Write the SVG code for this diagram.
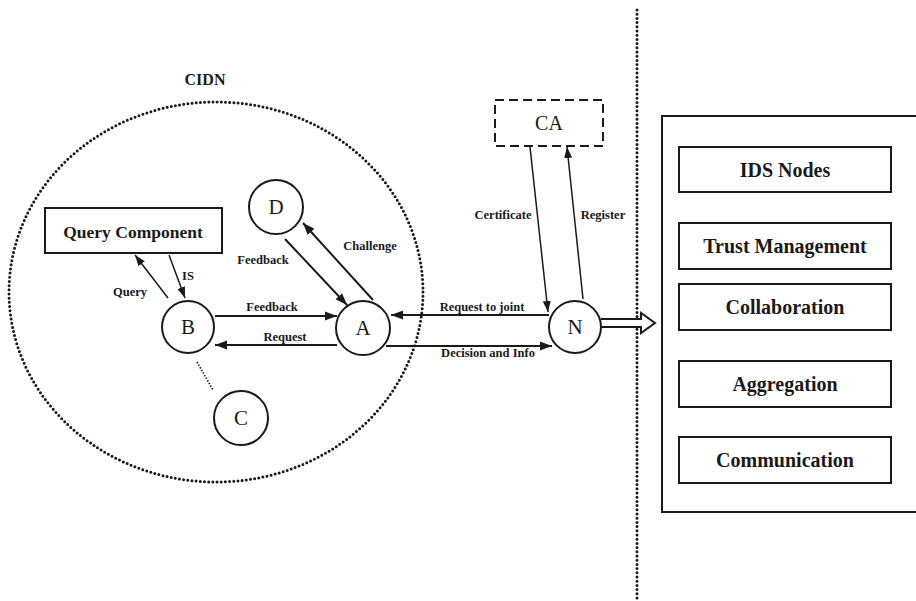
<svg xmlns="http://www.w3.org/2000/svg" width="916" height="601" viewBox="0 0 916 601">
<defs>
<style>
text{font-family:"Liberation Serif","Times New Roman",serif;fill:#1a1a1a}
.lbl{font-size:12.5px;font-weight:bold;text-anchor:middle}
.box{font-size:20px;font-weight:bold;text-anchor:middle}
.nd{font-size:21px;text-anchor:middle}
.circ{fill:#fff;stroke:#1a1a1a;stroke-width:2}
.rect{fill:#fff;stroke:#1a1a1a;stroke-width:2}
.dots{fill:none;stroke:#1a1a1a;stroke-width:3;stroke-linecap:round;stroke-dasharray:0 4.2}
.arr{fill:none;stroke:#1a1a1a;stroke-width:2;marker-end:url(#ah)}
.thin{fill:none;stroke:#1a1a1a;stroke-width:1.5;marker-end:url(#ahs)}
</style>
<marker id="ah" markerUnits="userSpaceOnUse" markerWidth="13" markerHeight="10" refX="12" refY="5" orient="auto"><path d="M0,0.5 L12,5 L0,9.5 z" fill="#1a1a1a"/></marker>
<marker id="ahs" markerUnits="userSpaceOnUse" markerWidth="12" markerHeight="10" refX="11" refY="5" orient="auto"><path d="M0,1 L11,5 L0,9 z" fill="#1a1a1a"/></marker>
</defs>
<rect width="916" height="601" fill="#fff"/>

<g id="cidn">
<ellipse cx="216" cy="292" rx="207" ry="190" class="dots"/>
<text x="205" y="85" style="font-size:16px;font-weight:bold;text-anchor:middle">CIDN</text>
</g>
<line id="divider" x1="637" y1="10" x2="637" y2="598" class="dots"/>

<g id="connectors">
<line x1="215" y1="316" x2="337" y2="316" class="arr"/>
<line x1="337" y1="345" x2="215" y2="345" class="arr"/>
<line x1="168" y1="298" x2="135" y2="255" class="thin"/>
<line x1="169" y1="255" x2="185" y2="298" class="thin"/>
<line x1="285" y1="239" x2="347" y2="305" class="arr"/>
<line x1="373" y1="300" x2="303" y2="223" class="arr"/>
<line x1="197" y1="362" x2="213" y2="390" style="fill:none;stroke:#1a1a1a;stroke-width:1.6;stroke-dasharray:1.5 1.5"/>
<line x1="549" y1="315" x2="391" y2="315" class="arr"/>
<line x1="386" y1="346" x2="552" y2="346" class="arr"/>
<line x1="530" y1="147" x2="548" y2="312" class="thin"/>
<line x1="583" y1="299" x2="567" y2="147" class="thin"/>
<path d="M601,319 L641,319 L641,313 L655,323 L641,333 L641,327 L601,327" fill="#fff" stroke="#1a1a1a" stroke-width="2" stroke-linejoin="miter"/>
<text x="272" y="311" class="lbl">Feedback</text>
<text x="285" y="341" class="lbl">Request</text>
<text x="130" y="296" class="lbl">Query</text>
<text x="188" y="280" class="lbl">IS</text>
<text x="263" y="264" class="lbl">Feedback</text>
<text x="370" y="250" class="lbl">Challenge</text>
<text x="482" y="311" class="lbl">Request to joint</text>
<text x="488" y="357" class="lbl">Decision and Info</text>
<text x="503" y="219" class="lbl">Certificate</text>
<text x="603" y="219" class="lbl">Register</text>
</g>

<g id="query-component">
<rect x="45" y="208" width="177" height="45" class="rect"/>
<text x="133" y="238" style="font-size:17.5px;font-weight:bold;text-anchor:middle">Query Component</text>
</g>
<g id="node-B"><circle cx="188" cy="327" r="26" class="circ"/><text x="188" y="334" class="nd">B</text></g>
<g id="node-A"><circle cx="363" cy="328" r="27" class="circ"/><text x="363" y="335" class="nd">A</text></g>
<g id="node-D"><circle cx="276" cy="207" r="27" class="circ"/><text x="276" y="214" class="nd">D</text></g>
<g id="node-C"><circle cx="241" cy="418" r="27" class="circ"/><text x="241" y="425" class="nd">C</text></g>
<g id="node-N"><circle cx="575" cy="327" r="26" class="circ"/><text x="575" y="334" class="nd">N</text></g>
<g id="node-CA">
<rect x="495" y="100" width="108" height="46" fill="#fff" stroke="#1a1a1a" stroke-width="2" stroke-dasharray="9 5"/>
<text x="549" y="130" style="font-size:20px;text-anchor:middle">CA</text>
</g>

<g id="ids-panel">
<rect x="662" y="116" width="270" height="396" fill="none" stroke="#1a1a1a" stroke-width="2"/>
</g>
<g id="ids-nodes"><rect x="679" y="147" width="212" height="45" class="rect"/><text x="785" y="177" class="box">IDS Nodes</text></g>
<g id="trust-management"><rect x="679" y="223" width="212" height="46" class="rect"/><text x="785" y="253" class="box">Trust Management</text></g>
<g id="collaboration"><rect x="679" y="284" width="212" height="46" class="rect"/><text x="785" y="314" class="box">Collaboration</text></g>
<g id="aggregation"><rect x="679" y="361" width="212" height="46" class="rect"/><text x="785" y="391" class="box">Aggregation</text></g>
<g id="communication"><rect x="679" y="437" width="212" height="46" class="rect"/><text x="785" y="467" class="box">Communication</text></g>
</svg>
